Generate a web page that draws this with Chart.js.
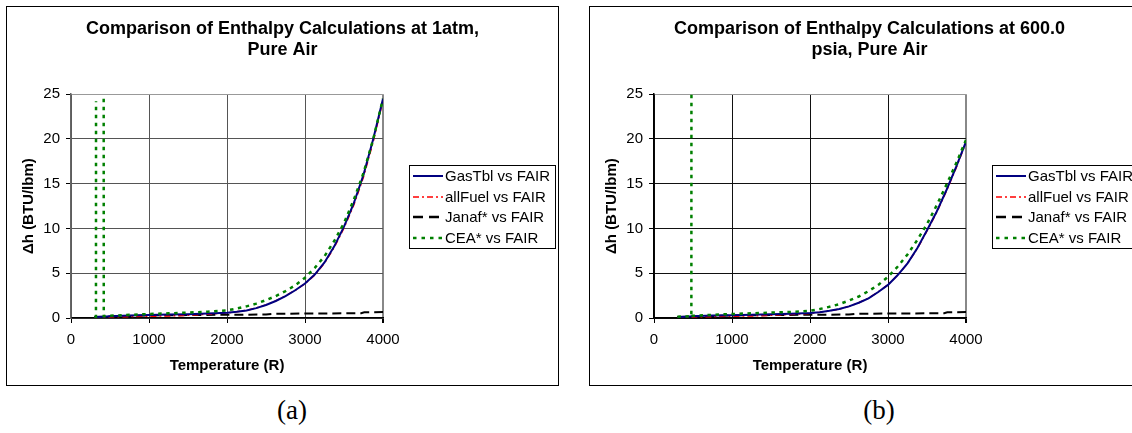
<!DOCTYPE html>
<html><head><meta charset="utf-8">
<script src="https://cdn.jsdelivr.net/npm/chart.js@4.4.1/dist/chart.umd.min.js"></script>
<style>
html,body{margin:0;padding:0;background:#fff;width:1132px;height:433px;overflow:hidden;position:relative;}
.box{position:absolute;top:6px;border:1px solid #000;background:#fff;}
#boxA{left:6px;width:551px;height:378px;}
#boxB{left:589px;width:559px;height:378px;}
canvas{display:block;}
.cap{position:absolute;font-family:"Liberation Serif","DejaVu Serif",serif;font-size:27px;top:397px;transform:translateX(-50%);line-height:1;}
</style></head>
<body>
<div class="box" id="boxA"><canvas id="cA" width="551" height="378"></canvas></div>
<div class="box" id="boxB"><canvas id="cB" width="559" height="378"></canvas></div>
<div class="cap" style="left:292px">(a)</div>
<div class="cap" style="left:879px">(b)</div>
<script>
// ---------- data ----------
const seriesNames = ['GasTbl vs FAIR', 'allFuel vs FAIR', 'Janaf* vs FAIR', 'CEA* vs FAIR'];
const titleA = ['Comparison of Enthalpy Calculations at 1atm,', 'Pure Air'];
const titleB = ['Comparison of Enthalpy Calculations at 600.0', 'psia, Pure Air'];
const xTitle = 'Temperature (R)';
const yTitle = 'Δh (BTU/lbm)';

const tempGrid = [300, 400, 500, 750, 1000, 1250, 1500, 1750, 2000, 2125, 2250, 2375, 2500, 2625, 2750, 2875, 3000, 3125, 3250, 3375, 3500, 3625, 3750, 3875, 4000];

const gasTblA  = [0.10, 0.15, 0.20, 0.28, 0.33, 0.38, 0.43, 0.50, 0.60, 0.70, 0.85, 1.10, 1.45, 1.90, 2.45, 3.10, 3.85, 4.85, 6.20, 8.00, 10.2, 12.8, 16.0, 20.0, 24.5];
const allFuelA = [0.10, 0.11, 0.12, 0.15, 0.20, 0.22, 0.30, 0.42, 0.57, 0.70, 0.86, 1.12, 1.47, 1.92, 2.47, 3.10, 3.83, 4.80, 6.12, 7.90, 10.05, 12.6, 15.75, 19.7, 24.3];
const janafTA  = [300, 500, 1000, 1500, 2000, 2500, 2600, 3000, 3500, 3720, 3760, 4000];
const janafA   = [0.10, 0.18, 0.28, 0.33, 0.37, 0.38, 0.46, 0.50, 0.52, 0.54, 0.64, 0.67];
const ceaTA    = [300, 320, 321, 370, 419, 420, 500, 750, 1000, 1250, 1500, 1750, 2000, 2125, 2250, 2375, 2500, 2625, 2750, 2875, 3000, 3125, 3250, 3375, 3500, 3625, 3750, 3875, 4000];
const ceaA     = [0.15, 0.15, 24.2, null, 24.5, 0.20, 0.25, 0.35, 0.45, 0.52, 0.60, 0.70, 0.85, 1.05, 1.30, 1.60, 2.00, 2.45, 3.00, 3.65, 4.50, 5.60, 6.90, 8.60, 10.6, 13.2, 16.2, 20.0, 24.5];

const gasTblB  = [0.10, 0.15, 0.20, 0.27, 0.32, 0.36, 0.41, 0.47, 0.55, 0.65, 0.80, 1.00, 1.30, 1.70, 2.20, 2.90, 3.70, 4.80, 6.10, 7.80, 9.80, 11.9, 14.3, 16.9, 19.7];
const allFuelB = [0.10, 0.11, 0.12, 0.15, 0.20, 0.22, 0.30, 0.40, 0.52, 0.63, 0.79, 0.99, 1.30, 1.70, 2.22, 2.92, 3.72, 4.80, 6.08, 7.75, 9.72, 11.8, 14.2, 16.8, 19.6];
const janafTB  = [300, 500, 1000, 1500, 2000, 2500, 2600, 3000, 3500, 3720, 3760, 4000];
const janafB   = [0.10, 0.18, 0.28, 0.33, 0.37, 0.38, 0.46, 0.50, 0.52, 0.54, 0.64, 0.66];
const ceaTB    = [300, 479, 480, 480.5, 481, 500, 750, 1000, 1250, 1500, 1750, 2000, 2125, 2250, 2375, 2500, 2625, 2750, 2875, 3000, 3125, 3250, 3375, 3500, 3625, 3750, 3875, 4000];
const ceaB     = [0.15, 0.20, 25.0, null, 0.22, 0.25, 0.35, 0.45, 0.52, 0.60, 0.68, 0.80, 1.00, 1.25, 1.55, 1.95, 2.40, 3.00, 3.70, 4.60, 5.75, 7.10, 8.70, 10.5, 12.6, 14.9, 17.3, 19.9];

const xTicks = [0, 1000, 2000, 3000, 4000];
const yTicks = [0, 5, 10, 15, 20, 25];

// ---------- helpers ----------
const SANS = '"Liberation Sans", Arial, Helvetica, sans-serif';
const zip = (xs, ys) => xs.map((x, i) => ({x: x, y: ys[i]}));

const boxLegend = {
  id: 'boxLegend',
  afterDraw(chart, args, o) {
    const ctx = chart.ctx;
    ctx.save();
    ctx.fillStyle = '#fff';
    ctx.fillRect(o.x, o.y, o.w, o.h);
    ctx.strokeStyle = '#000'; ctx.lineWidth = 1; ctx.setLineDash([]);
    ctx.strokeRect(o.x + 0.5, o.y + 0.5, o.w, o.h);
    ctx.font = '15px ' + SANS; ctx.textBaseline = 'middle'; ctx.textAlign = 'left';
    chart.data.datasets.forEach((ds, i) => {
      const cy = Math.round(o.y + o.first + i * o.rowH);
      ctx.beginPath();
      ctx.setLineDash(ds.legendDash || []);
      ctx.strokeStyle = ds.borderColor;
      ctx.lineWidth = ds.legendWidth || ds.borderWidth;
      ctx.moveTo(o.x + 4, cy); ctx.lineTo(o.x + 34, cy); ctx.stroke();
      ctx.setLineDash([]);
      ctx.fillStyle = '#000';
      ctx.fillText(ds.label, o.x + 36, cy + 1);
    });
    ctx.restore();
  }
};

function makeChart(id, title, gas, fuel, jT, jan, cT, cea, gridCol, leftCol, rightPad, legendW) {
  return new Chart(document.getElementById(id), {
    type: 'scatter',
    data: {
      datasets: [
        {label: seriesNames[0], data: zip(tempGrid, gas), showLine: true, borderColor: '#000080', borderWidth: 2, pointRadius: 0, tension: 0, order: 1},
        {label: seriesNames[1], data: zip(tempGrid, fuel), showLine: true, borderColor: '#ff0000', borderWidth: 1.5, borderDash: [6, 3, 2, 3], legendDash: [6, 3, 2, 3], legendWidth: 1.5, pointRadius: 0, tension: 0, order: 2},
        {label: seriesNames[2], data: zip(jT, jan), showLine: true, borderColor: '#000000', borderWidth: 2, borderDash: [9, 5], legendDash: [10, 6], legendWidth: 2.5, pointRadius: 0, tension: 0, order: 3},
        {label: seriesNames[3], data: zip(cT, cea), showLine: true, spanGaps: false, borderColor: '#008000', borderWidth: 2.5, borderDash: [3.5, 4.5], legendDash: [3.5, 5], pointRadius: 0, tension: 0, order: 0}
      ]
    },
    options: {
      responsive: false, animation: false, devicePixelRatio: 1,
      layout: {padding: 0},
      plugins: {
        legend: {display: false},
        tooltip: {enabled: false},
        title: {display: true, text: title, color: '#000',
          font: {family: SANS, size: 18, weight: 'bold', lineHeight: 1.2},
          padding: {top: 11, bottom: 33}},
        boxLegend: {x: 402, y: 158, w: legendW, h: 83, first: 11, rowH: 20.7}
      },
      scales: {
        x: {type: 'linear', position: 'bottom', min: 0, max: 4000,
          afterBuildTicks: s => { s.ticks = xTicks.map(v => ({value: v})); },
          ticks: {color: '#000', font: {family: SANS, size: 15}, padding: 8, maxRotation: 0, callback: v => String(v)},
          grid: {color: c => c.index === xTicks.length - 1 ? '#888' : gridCol,
                 lineWidth: c => c.index === xTicks.length - 1 ? 2 : 1,
                 tickLength: 5, tickColor: '#000'},
          border: {color: '#000', width: 1.5},
          title: {display: true, text: xTitle, color: '#000', font: {family: SANS, size: 15, weight: 'bold'}, padding: {top: 0, bottom: 10}},
          afterFit: s => { s.height = 67; }
        },
        y: {type: 'linear', position: 'left', min: 0, max: 25,
          afterBuildTicks: s => { s.ticks = yTicks.map(v => ({value: v})); },
          ticks: {color: '#000', font: {family: SANS, size: 15}, padding: 6, callback: v => String(v)},
          grid: {color: c => c.index === yTicks.length - 1 ? '#999' : gridCol,
                 tickLength: 5, tickColor: '#000'},
          border: {color: leftCol, width: 1.5},
          title: {display: true, text: yTitle, color: '#000', font: {family: SANS, size: 15, weight: 'bold'}, padding: {top: 13, bottom: 0}},
          afterFit: s => { s.width = 64; }
        },
        yR: {type: 'linear', position: 'right', display: true,
          ticks: {display: false}, grid: {display: false, drawTicks: false},
          border: {display: false}, title: {display: false},
          afterFit: s => { s.width = rightPad; }
        }
      }
    },
    plugins: [boxLegend]
  });
}

makeChart('cA', titleA, gasTblA, allFuelA, janafTA, janafA, ceaTA, ceaA, '#555', '#666', 175, 146);
makeChart('cB', titleB, gasTblB, allFuelB, janafTB, janafB, ceaTB, ceaB, '#111', '#000', 183, 153);
</script>
</body></html>
